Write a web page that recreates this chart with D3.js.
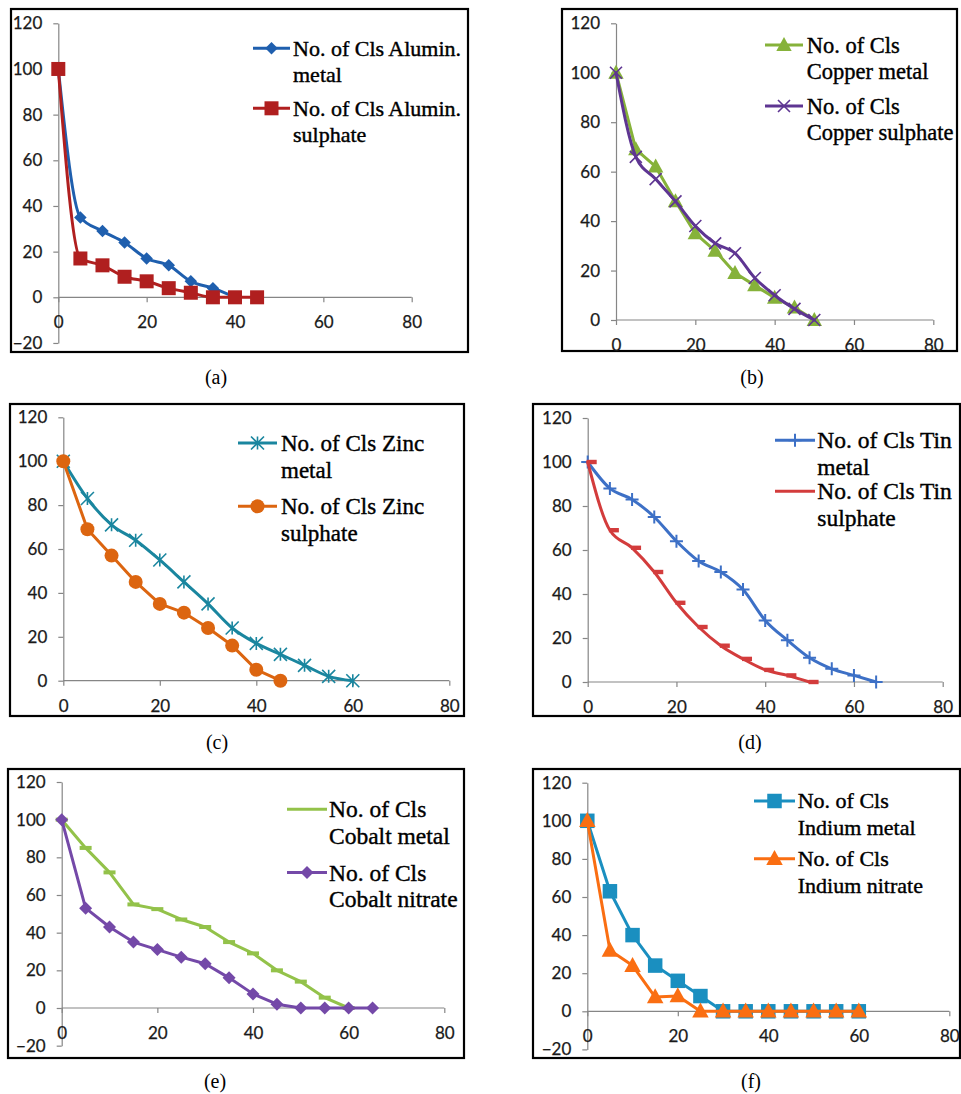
<!DOCTYPE html>
<html><head><meta charset="utf-8">
<script src="https://cdn.jsdelivr.net/npm/d3@7"></script>
<style>body{margin:0;background:#fff}svg{display:block}</style>
</head><body>
<svg id="c" width="961" height="1094"></svg>
<script>
// ---------- data ----------
const xTickValues = [0, 20, 40, 60, 80];
const yTicksWithNeg = [-20, 0, 20, 40, 60, 80, 100, 120];
const yTicksPos = [0, 20, 40, 60, 80, 100, 120];
const captions = ["(a)", "(b)", "(c)", "(d)", "(e)", "(f)"];

// (a) Aluminium
const alX_metal = [0, 5, 10, 15, 20, 25, 30, 35, 40];
const alY_metal = [100, 35, 29, 24, 17, 14, 7, 4, 0];
const alX_sulph = [0, 5, 10, 15, 20, 25, 30, 35, 40, 45];
const alY_sulph = [100, 17, 14, 9, 7, 4, 2, 0, 0, 0];
const alNames = [["No. of Cls Alumin.", "metal"], ["No. of Cls Alumin.", "sulphate"]];

// (b) Copper
const cuX = [0, 5, 10, 15, 20, 25, 30, 35, 40, 45, 50];
const cuY_metal = [100, 69, 62, 48, 35, 28, 19, 14, 9, 5, 0];
const cuY_sulph = [100, 66, 57, 48, 38, 31, 27, 17, 10, 4.5, 0];
const cuNames = [["No. of Cls", "Copper metal"], ["No. of Cls", "Copper sulphate"]];

// (c) Zinc
const znX_metal = [0, 5, 10, 15, 20, 25, 30, 35, 40, 45, 50, 55, 60];
const znY_metal = [100, 83, 71, 64, 55, 45, 35, 24, 17, 12, 7, 2, 0];
const znX_sulph = [0, 5, 10, 15, 20, 25, 30, 35, 40, 45];
const znY_sulph = [100, 69, 57, 45, 35, 31, 24, 16, 5, 0];
const znNames = [["No. of Cls Zinc", "metal"], ["No. of Cls Zinc", "sulphate"]];

// (d) Tin
const snX_metal = [0, 5, 10, 15, 20, 25, 30, 35, 40, 45, 50, 55, 60, 65];
const snY_metal = [100, 88, 83, 75, 64, 55, 50, 42, 28, 19, 11, 6, 3, 0];
const snX_sulph = [0, 5, 10, 15, 20, 25, 30, 35, 40, 45, 50];
const snY_sulph = [100, 69, 61, 50, 36, 25, 16.5, 10.5, 5.5, 3, 0];
const snNames = [["No. of Cls Tin", "metal"], ["No. of Cls Tin", "sulphate"]];

// (e) Cobalt
const coX_metal = [0, 5, 10, 15, 20, 25, 30, 35, 40, 45, 50, 55, 60];
const coY_metal = [100, 85, 72, 55, 52.5, 47, 43, 35, 29, 20, 14, 5.5, 0];
const coX_nitr = [0, 5, 10, 15, 20, 25, 30, 35, 40, 45, 50, 55, 60, 65];
const coY_nitr = [100, 53, 43, 35, 31, 27, 23.5, 16, 7.5, 2, 0, 0, 0, 0];
const coNames = [["No. of Cls", "Cobalt metal"], ["No. of Cls", "Cobalt nitrate"]];

// (f) Indium
const inX = [0, 5, 10, 15, 20, 25, 30, 35, 40, 45, 50, 55, 60];
const inY_metal = [100, 63, 40, 24, 16, 8, 0, 0, 0, 0, 0, 0, 0];
const inY_nitr = [100, 32, 24, 7.5, 8, 0, 0, 0, 0, 0, 0, 0, 0];
const inNames = [["No. of Cls", "Indium metal"], ["No. of Cls", "Indium nitrate"]];

// ---------- layout / style ----------
const panels = [
  { frame:[11,9,468,352], x0:58.3, x80:411.7, y120:23.3, y0:297.3, yMin:-20, yTicks:yTicksWithNeg,
    cap:[216,378],
    leg:{x1:253,x2:290,y:48.3,gap:60,tx:293,fs:22},
    series:[
      {xs:alX_metal, ys:alY_metal, name:alNames[0], color:"#1F5FAE", marker:"diamond", ms:12.5, smooth:true},
      {xs:alX_sulph, ys:alY_sulph, name:alNames[1], color:"#B01F1F", marker:"square", ms:14, smooth:true}]},
  { frame:[562,9,957,351], x0:616, x80:933.3, y120:23.3, y0:320, yMin:0, yTicks:yTicksPos,
    cap:[752,378],
    leg:{x1:765,x2:803,y:45,gap:61,tx:806.7,fs:22.5},
    series:[
      {xs:cuX, ys:cuY_metal, name:cuNames[0], color:"#86B23A", marker:"triangle", ms:14, smooth:false},
      {xs:cuX, ys:cuY_sulph, name:cuNames[1], color:"#5E3592", marker:"x", ms:12, smooth:true}]},
  { frame:[10,404,464,716], x0:63.3, x80:449.3, y120:417.3, y0:680.7, yMin:0, yTicks:yTicksPos,
    cap:[217,743],
    leg:{x1:238,x2:277,y:443,gap:63.3,tx:281,fs:23},
    series:[
      {xs:znX_metal, ys:znY_metal, name:znNames[0], color:"#1A869F", marker:"asterisk", ms:13, smooth:true},
      {xs:znX_sulph, ys:znY_sulph, name:znNames[1], color:"#DC6510", marker:"circle", ms:14, smooth:false}]},
  { frame:[533,404,960,716], x0:587.7, x80:942.7, y120:418, y0:682, yMin:0, yTicks:yTicksPos,
    cap:[750,743],
    leg:{x1:775,x2:815,y:440.3,gap:51,tx:817.3,fs:23.5},
    series:[
      {xs:snX_metal, ys:snY_metal, name:snNames[0], color:"#3D70C6", marker:"plus", ms:13, smooth:true},
      {xs:snX_sulph, ys:snY_sulph, name:snNames[1], color:"#D33C3C", marker:"dashR", ms:10, smooth:true, noLegMarker:true}]},
  { frame:[8,769,464,1058], x0:61.7, x80:444.3, y120:782, y0:1008, yMin:-20, yTicks:yTicksWithNeg,
    cap:[215,1082],
    leg:{x1:287,x2:327,y:809.3,gap:63.3,tx:329,fs:23.5},
    series:[
      {xs:coX_metal, ys:coY_metal, name:coNames[0], color:"#93C24A", marker:"dash", ms:12, smooth:false, noLegMarker:true},
      {xs:coX_nitr, ys:coY_nitr, name:coNames[1], color:"#7449A8", marker:"diamond", ms:13, smooth:false}]},
  { frame:[533,769,960,1058], x0:587.3, x80:949.3, y120:782.7, y0:1011.3, yMin:-20, yTicks:yTicksWithNeg,
    cap:[751,1082],
    leg:{x1:754,x2:795,y:801,gap:57.7,tx:797.7,fs:22},
    series:[
      {xs:inX, ys:inY_metal, name:inNames[0], color:"#1A8FC0", marker:"square", ms:14.5, smooth:false},
      {xs:inX, ys:inY_nitr, name:inNames[1], color:"#FA6E12", marker:"triangle", ms:15, smooth:false}]}
];

const svg = d3.select("#c");
const AXIS_COLOR = "#868686";
const LABEL_FONT = "Lato, 'Open Sans', sans-serif";
const SERIF = "'Liberation Serif', 'Times New Roman', serif";

function drawMarker(g, type, s, color, x, y) {
  const h = s / 2;
  if (type === "diamond") {
    g.append("path").attr("d", `M${x},${y-h}L${x+h},${y}L${x},${y+h}L${x-h},${y}Z`).attr("fill", color);
  } else if (type === "square") {
    g.append("rect").attr("x", x-h).attr("y", y-h).attr("width", s).attr("height", s).attr("fill", color);
  } else if (type === "triangle") {
    g.append("path").attr("d", `M${x},${y-s*0.58}L${x+s*0.55},${y+s*0.42}L${x-s*0.55},${y+s*0.42}Z`).attr("fill", color);
  } else if (type === "circle") {
    g.append("circle").attr("cx", x).attr("cy", y).attr("r", h).attr("fill", color);
  } else if (type === "x") {
    g.append("path").attr("d", `M${x-h},${y-h}L${x+h},${y+h}M${x-h},${y+h}L${x+h},${y-h}`)
      .attr("stroke", color).attr("stroke-width", 1.6).attr("fill", "none");
  } else if (type === "asterisk") {
    g.append("path").attr("d", `M${x-h},${y-h}L${x+h},${y+h}M${x-h},${y+h}L${x+h},${y-h}M${x},${y-h}L${x},${y+h}`)
      .attr("stroke", color).attr("stroke-width", 1.6).attr("fill", "none");
  } else if (type === "plus") {
    g.append("path").attr("d", `M${x-h},${y}L${x+h},${y}M${x},${y-h}L${x},${y+h}`)
      .attr("stroke", color).attr("stroke-width", 2).attr("fill", "none");
  } else if (type === "dash") {
    g.append("rect").attr("x", x-h).attr("y", y-2).attr("width", s).attr("height", 4).attr("fill", color);
  } else if (type === "dashR") {
    g.append("rect").attr("x", x-1).attr("y", y-2.2).attr("width", s).attr("height", 4.4).attr("fill", color);
  }
}

panels.forEach((p, i) => {
  const g = svg.append("g");
  const [fx1, fy1, fx2, fy2] = p.frame;
  g.append("rect").attr("x", fx1).attr("y", fy1).attr("width", fx2-fx1).attr("height", fy2-fy1)
    .attr("fill", "#fff").attr("stroke", "#000").attr("stroke-width", 2.2);

  const step = (p.y0 - p.y120) / 6;
  const yBottom = p.y0 + step * (-p.yMin / 20);
  const x = d3.scaleLinear().domain([0, 80]).range([p.x0, p.x80]);
  const y = d3.scaleLinear().domain([p.yMin, 120]).range([yBottom, p.y120]);

  const ya = g.append("g").attr("transform", `translate(${p.x0},0)`)
    .call(d3.axisLeft(y).tickValues(p.yTicks).tickSize(5).tickSizeOuter(0).tickPadding(11).tickFormat(d3.format("d")));
  const xa = g.append("g").attr("transform", `translate(0,${y(0)})`)
    .call(d3.axisBottom(x).tickValues(xTickValues).tickSize(5).tickSizeOuter(0).tickPadding(14).tickFormat(d3.format("d")));
  [ya, xa].forEach(a => {
    a.select(".domain").attr("stroke", AXIS_COLOR).attr("stroke-width", 1.2);
    a.selectAll(".tick line").attr("stroke", AXIS_COLOR).attr("stroke-width", 1.2);
    a.selectAll(".tick text").attr("fill", "#1a1a1a").style("font-family", LABEL_FONT).style("font-size", "17px")
      .attr("stroke", "#1a1a1a").attr("stroke-width", 0.25);
  });
  xa.select(".domain").attr("d", `M${p.x0},0H${p.x80}`);

  p.series.forEach(s => {
    const pts = s.xs.map((xv, k) => [x(xv), y(s.ys[k])]);
    const line = d3.line().curve(s.smooth ? d3.curveMonotoneX : d3.curveLinear);
    g.append("path").attr("d", line(pts)).attr("fill", "none").attr("stroke", s.color)
      .attr("stroke-width", 3).attr("stroke-linejoin", "round").attr("stroke-linecap", "round");
    const mg = g.append("g");
    pts.forEach(pt => drawMarker(mg, s.marker, s.ms, s.color, pt[0], pt[1]));
  });

  p.series.forEach((s, k) => {
    const ly = p.leg.y + k * p.leg.gap;
    g.append("line").attr("x1", p.leg.x1).attr("x2", p.leg.x2).attr("y1", ly).attr("y2", ly)
      .attr("stroke", s.color).attr("stroke-width", 3);
    if (!s.noLegMarker) drawMarker(g, s.marker, s.ms, s.color, (p.leg.x1 + p.leg.x2) / 2, ly);
    s.name.forEach((t, j) => {
      g.append("text").attr("x", p.leg.tx).attr("y", ly + j * 26.7 + p.leg.fs * 0.34)
        .style("font-family", SERIF).style("font-size", p.leg.fs + "px")
        .attr("fill", "#000").attr("stroke", "#000").attr("stroke-width", 0.4).text(t);
    });
  });

  svg.append("text").attr("x", p.cap[0]).attr("y", p.cap[1] + 6).attr("text-anchor", "middle")
    .style("font-family", SERIF).style("font-size", "20px").attr("fill", "#000").text(captions[i]);
});
</script>
</body></html>
